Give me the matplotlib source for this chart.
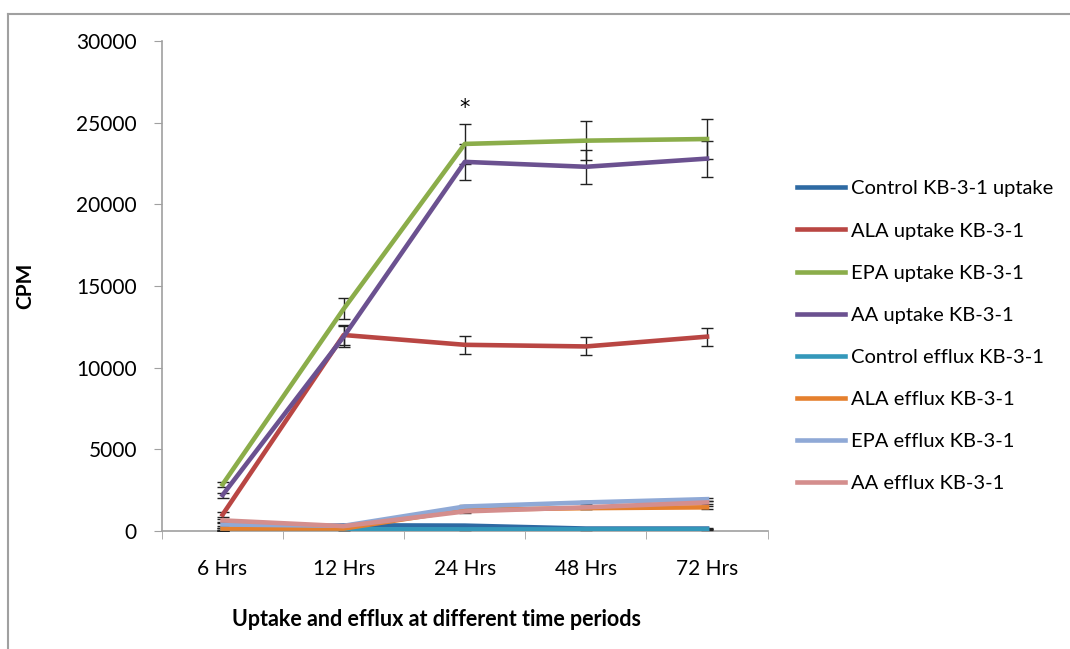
import numpy as np
import matplotlib.pyplot as plt
from matplotlib.lines import Line2D

plt.rcParams['font.family'] = ['Lato', 'DejaVu Sans']

times = ['6 Hrs', '12 Hrs', '24 Hrs', '48 Hrs', '72 Hrs']
names = ['Control KB-3-1 uptake', 'ALA uptake KB-3-1', 'EPA uptake KB-3-1',
         'AA uptake KB-3-1', 'Control efflux KB-3-1', 'ALA efflux KB-3-1',
         'EPA efflux KB-3-1', 'AA efflux KB-3-1']

ctrl_up = [100, 350, 330, 150, 150]
ala_up = [1000, 12000, 11400, 11300, 11900]
epa_up = [2850, 13600, 23700, 23900, 24000]
aa_up = [2200, 11900, 22600, 22300, 22800]
ctrl_ef = [50, 100, 100, 100, 100]
ala_ef = [150, 150, 1300, 1400, 1450]
epa_ef = [400, 320, 1500, 1750, 1950]
aa_ef = [650, 300, 1200, 1450, 1750]

ctrl_up_err = [80, 60, 60, 50, 50]
ala_up_err = [150, 600, 550, 550, 550]
epa_up_err = [150, 650, 1200, 1200, 1200]
aa_up_err = [150, 650, 1100, 1050, 1100]
ctrl_ef_err = [40, 40, 40, 40, 40]
ala_ef_err = [60, 60, 80, 80, 80]
epa_ef_err = [80, 60, 80, 80, 100]
aa_ef_err = [100, 60, 80, 80, 100]

series = [ctrl_up, ala_up, epa_up, aa_up, ctrl_ef, ala_ef, epa_ef, aa_ef]
errs = [ctrl_up_err, ala_up_err, epa_up_err, aa_up_err,
        ctrl_ef_err, ala_ef_err, epa_ef_err, aa_ef_err]
colors = ['#2E6AA3', '#B94643', '#8BAD4A', '#6B5190',
          '#3498BA', '#E5802E', '#8FA9D6', '#D48E8D']

fig = plt.figure(figsize=(10.7, 6.49), dpi=100)
ax = fig.add_axes([0.1514, 0.1818, 0.566, 0.755])

x = np.arange(len(times))
for vals, err, c in zip(series, errs, colors):
    ax.errorbar(x, vals, yerr=err, color=c, lw=3.3, ecolor='#222222',
                elinewidth=1, capsize=4, capthick=1, zorder=3)

ax.text(2, 25300, '*', ha='center', va='bottom', fontsize=15,
        family='DejaVu Sans')

ax.set_xlim(-0.5, 4.5)
ax.set_ylim(0, 30000)
ax.set_yticks(np.arange(0, 30001, 5000))
ax.set_xticks(x)
ax.set_xticklabels(times)
ax.set_xticks(np.arange(-0.5, 4.6, 1), minor=True)
ax.tick_params(axis='x', which='major', length=0, pad=20, labelsize=15)
ax.tick_params(axis='x', which='minor', length=6, color='#a0a0a0', direction='out')
ax.tick_params(axis='y', length=6, color='#a0a0a0', labelsize=15, pad=12)
for s in ['top', 'right']:
    ax.spines[s].set_visible(False)
for s in ['left', 'bottom']:
    ax.spines[s].set_color('#a0a0a0')
    ax.spines[s].set_linewidth(1.2)

ax.set_ylabel('CPM', fontsize=15, fontweight='bold')
ax.yaxis.set_label_coords(-0.21, 0.5)
ax.set_xlabel('Uptake and efflux at different time periods', fontsize=15.5,
              fontweight='bold')
ax.xaxis.set_label_coords(0.453, -0.16)

handles = [Line2D([], [], color=c, lw=3.3) for c in colors]
fig.legend(handles, names, loc='upper left', bbox_to_anchor=(0.728, 0.75),
           frameon=False, fontsize=14.5, handlelength=2.4, labelspacing=1.24,
           handletextpad=0.3)

# outer frame
fig.add_artist(Line2D([0.0075, 1.0], [0.978, 0.978], color='#a0a0a0', lw=1.5,
                      transform=fig.transFigure))
fig.add_artist(Line2D([0.0075, 0.0075], [0.0, 0.978], color='#a0a0a0', lw=1.5,
                      transform=fig.transFigure))

fig.savefig('out.png', dpi=100)
